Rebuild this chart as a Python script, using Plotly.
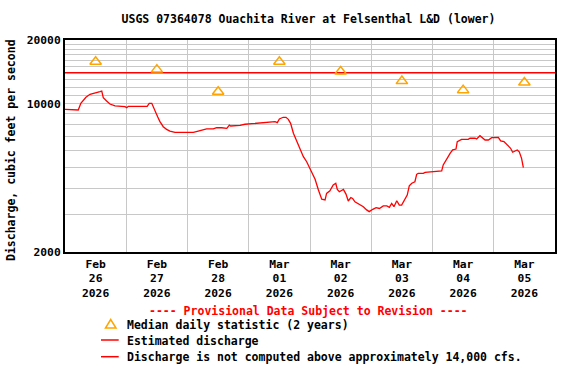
import math
import pandas as pd
import plotly.graph_objects as go

# ---------------- data ----------------
start_time = "2026-02-26 00:00"
hours_since_start = [0.0, 5.2, 6.2, 7.2, 8.2, 9.8, 11.8, 13.7, 14.4, 15.0, 16.3, 17.6, 19.6, 23.5, 24.2, 24.8,
                     32.2, 33.0, 34.0, 35.3, 36.3, 37.2, 38.5, 39.8, 41.1, 43.1, 50.3, 52.2, 55.5, 58.1, 59.4,
                     61.4, 62.3, 63.4, 64.4, 64.9, 68.6, 70.5, 73.2, 75.7, 79.7, 82.3, 83.2, 84.0, 85.5, 86.6,
                     87.5, 88.4, 89.5, 90.8, 92.1, 93.4, 94.7, 96.4, 98.0, 99.3, 100.6, 101.9, 102.5, 103.8,
                     105.1, 106.1, 106.7, 107.5, 108.4, 109.1, 110.1, 111.0, 112.0, 112.7, 113.6, 114.9, 116.9,
                     118.2, 119.2, 120.6, 121.9, 123.2, 124.7, 126.1, 127.1, 128.0, 128.9, 130.0, 131.0, 131.9,
                     133.2, 134.1, 134.9, 135.9, 137.1, 137.8, 138.4, 140.4, 141.1, 145.0, 147.6, 148.2, 149.6,
                     150.9, 151.9, 153.2, 153.7, 155.4, 158.0, 158.7, 160.7, 161.3, 162.6, 163.7, 164.6, 165.9,
                     167.2, 169.8, 170.7, 172.0, 173.7, 174.6, 175.4, 176.3, 177.2, 178.0, 178.9, 179.6]
discharge_cfs = [9420, 9350, 10050, 10420, 10730, 11090, 11210, 11410, 11490, 10690,
                 10310, 9980, 9770, 9690, 9590, 9730, 9730, 10050, 10050, 9350,
                 8690, 8240, 7800, 7580, 7440, 7340, 7340, 7440, 7610, 7610,
                 7710, 7710, 7660, 7660, 7940, 7860, 7920, 8010, 8060, 8120,
                 8240, 8240, 8150, 8480, 8640, 8640, 8450, 8090, 7260, 6630,
                 6100, 5630, 5330, 4870, 4410, 3920, 3550, 3520, 3780, 3890,
                 4140, 4220, 3950, 3850, 3890, 3950, 3750, 3480, 3610, 3580,
                 3450, 3390, 3270, 3160, 3100, 3180, 3240, 3210, 3300, 3300,
                 3250, 3390, 3270, 3490, 3330, 3330, 3520, 3710, 4100, 4220,
                 4290, 4650, 4700, 4700, 4750, 4770, 4820, 5150, 5530, 5840,
                 6060, 6120, 6630, 6800, 6800, 6880, 6880, 6820, 7070, 6880,
                 6750, 6750, 6920, 6950, 6680, 6630, 6340, 6170, 5910, 5990,
                 6060, 5940, 5530, 5000]

median_dates = ["2026-02-26 12:00", "2026-02-27 12:00", "2026-02-28 12:00", "2026-03-01 12:00",
                "2026-03-02 12:00", "2026-03-03 12:00", "2026-03-04 12:00", "2026-03-05 12:00"]
median_cfs = [15800, 14500, 11400, 15800, 14200, 12800, 11600, 12600]

threshold_cfs = 14000
x_range = ["2026-02-26 00:00", "2026-03-06 00:00"]
y_range = [2000, 20000]
y_labeled = [2000, 10000, 20000]
y_minor = [3000, 4000, 5000, 6000, 7000, 8000, 9000,
           11000, 12000, 13000, 14000, 15000, 16000, 17000, 18000, 19000]

times = pd.Timestamp(start_time) + pd.to_timedelta(hours_since_start, unit="h")

# ---------------- style ----------------
FONT = "DejaVu Sans Mono"
W, H = 576, 384
L, R, T, B = 65, 555, 40, 252
GRID = "#C8C8C8"


def pxx(x):
    return (x - L) / (R - L)


def pxy(y):
    return (B - y) / (B - T)


fig = go.Figure()

fig.add_trace(go.Scatter(x=x_range, y=[threshold_cfs, threshold_cfs], mode="lines",
                         line=dict(color="#FF0000", width=1.5), showlegend=False, hoverinfo="skip"))
fig.add_trace(go.Scatter(x=times, y=discharge_cfs, mode="lines",
                         line=dict(color="#FF0000", width=1.3), showlegend=False))
fig.add_trace(go.Scatter(x=median_dates, y=median_cfs, mode="markers",
                         marker=dict(symbol="triangle-up-open", size=10, color="#FFA500",
                                     line=dict(width=1.5, color="#FFA500")),
                         showlegend=False))

tickfont = dict(family=FONT, size=11.3, color="black", weight="bold")
txtfont = dict(family=FONT, size=11.5, color="black", weight="bold")

fig.update_layout(
    width=W, height=H,
    margin=dict(l=L, r=W - R, t=T, b=H - B),
    paper_bgcolor="white", plot_bgcolor="white",
    title=dict(text="USGS 07364078 Ouachita River at Felsenthal L&D (lower)",
               x=308.5 / W, xref="container", xanchor="center",
               y=1 - 19 / H, yref="container", yanchor="middle", font=txtfont),
    xaxis=dict(type="date", range=x_range, tickmode="linear", tick0=x_range[0],
               dtick=86400000, ticklabelmode="period", tickformat="%b<br>%d<br>%Y",
               showgrid=True, gridcolor=GRID, gridwidth=1, ticks="",
               showline=True, linecolor="black", linewidth=2, mirror=True,
               tickfont=tickfont, zeroline=False),
    yaxis=dict(type="log", range=[math.log10(y_range[0]), math.log10(y_range[1])],
               tickmode="array", tickvals=y_labeled, ticktext=[str(v) for v in y_labeled],
               showgrid=True, gridcolor=GRID, gridwidth=1, ticks="",
               minor=dict(tickmode="array", tickvals=y_minor, showgrid=True,
                          gridcolor=GRID, gridwidth=1, ticks=""),
               showline=True, linecolor="black", linewidth=2, mirror=True,
               tickfont=tickfont, zeroline=False),
)

annotations = [
    dict(text="Discharge, cubic feet per second", textangle=-90, x=pxx(11), y=pxy(150),
         xref="paper", yref="paper", xanchor="center", yanchor="middle", showarrow=False, font=txtfont),
    dict(text="---- Provisional Data Subject to Revision ----", x=pxx(308.6), y=pxy(311),
         xref="paper", yref="paper", xanchor="center", yanchor="middle", showarrow=False,
         font=dict(family=FONT, size=11.5, color="#FF0000", weight="bold")),
    dict(text="Median daily statistic (2 years)", x=pxx(125), y=pxy(325),
         xref="paper", yref="paper", xanchor="left", yanchor="middle", showarrow=False, font=txtfont),
    dict(text="Estimated discharge", x=pxx(125), y=pxy(340.7),
         xref="paper", yref="paper", xanchor="left", yanchor="middle", showarrow=False, font=txtfont),
    dict(text="Discharge is not computed above approximately 14,000 cfs.", x=pxx(125), y=pxy(356.7),
         xref="paper", yref="paper", xanchor="left", yanchor="middle", showarrow=False, font=txtfont),
]
fig.update_layout(annotations=annotations)

shapes = [
    dict(type="line", xref="paper", yref="paper", x0=pxx(101), x1=pxx(118.7), y0=pxy(340), y1=pxy(340),
         line=dict(color="#FF0000", width=1.5)),
    dict(type="line", xref="paper", yref="paper", x0=pxx(101), x1=pxx(118.7), y0=pxy(356.7), y1=pxy(356.7),
         line=dict(color="#FF0000", width=1.5)),
    dict(type="path", xref="paper", yref="paper",
         path=f"M {pxx(110.7)},{pxy(319.5)} L {pxx(105.5)},{pxy(328)} L {pxx(116)},{pxy(328)} Z",
         line=dict(color="#FFA500", width=1.5)),
]
fig.update_layout(shapes=shapes)

fig.write_html("out.html", config={"displayModeBar": False},
               post_script="document.body.style.margin='0';document.body.style.overflow='hidden';")
